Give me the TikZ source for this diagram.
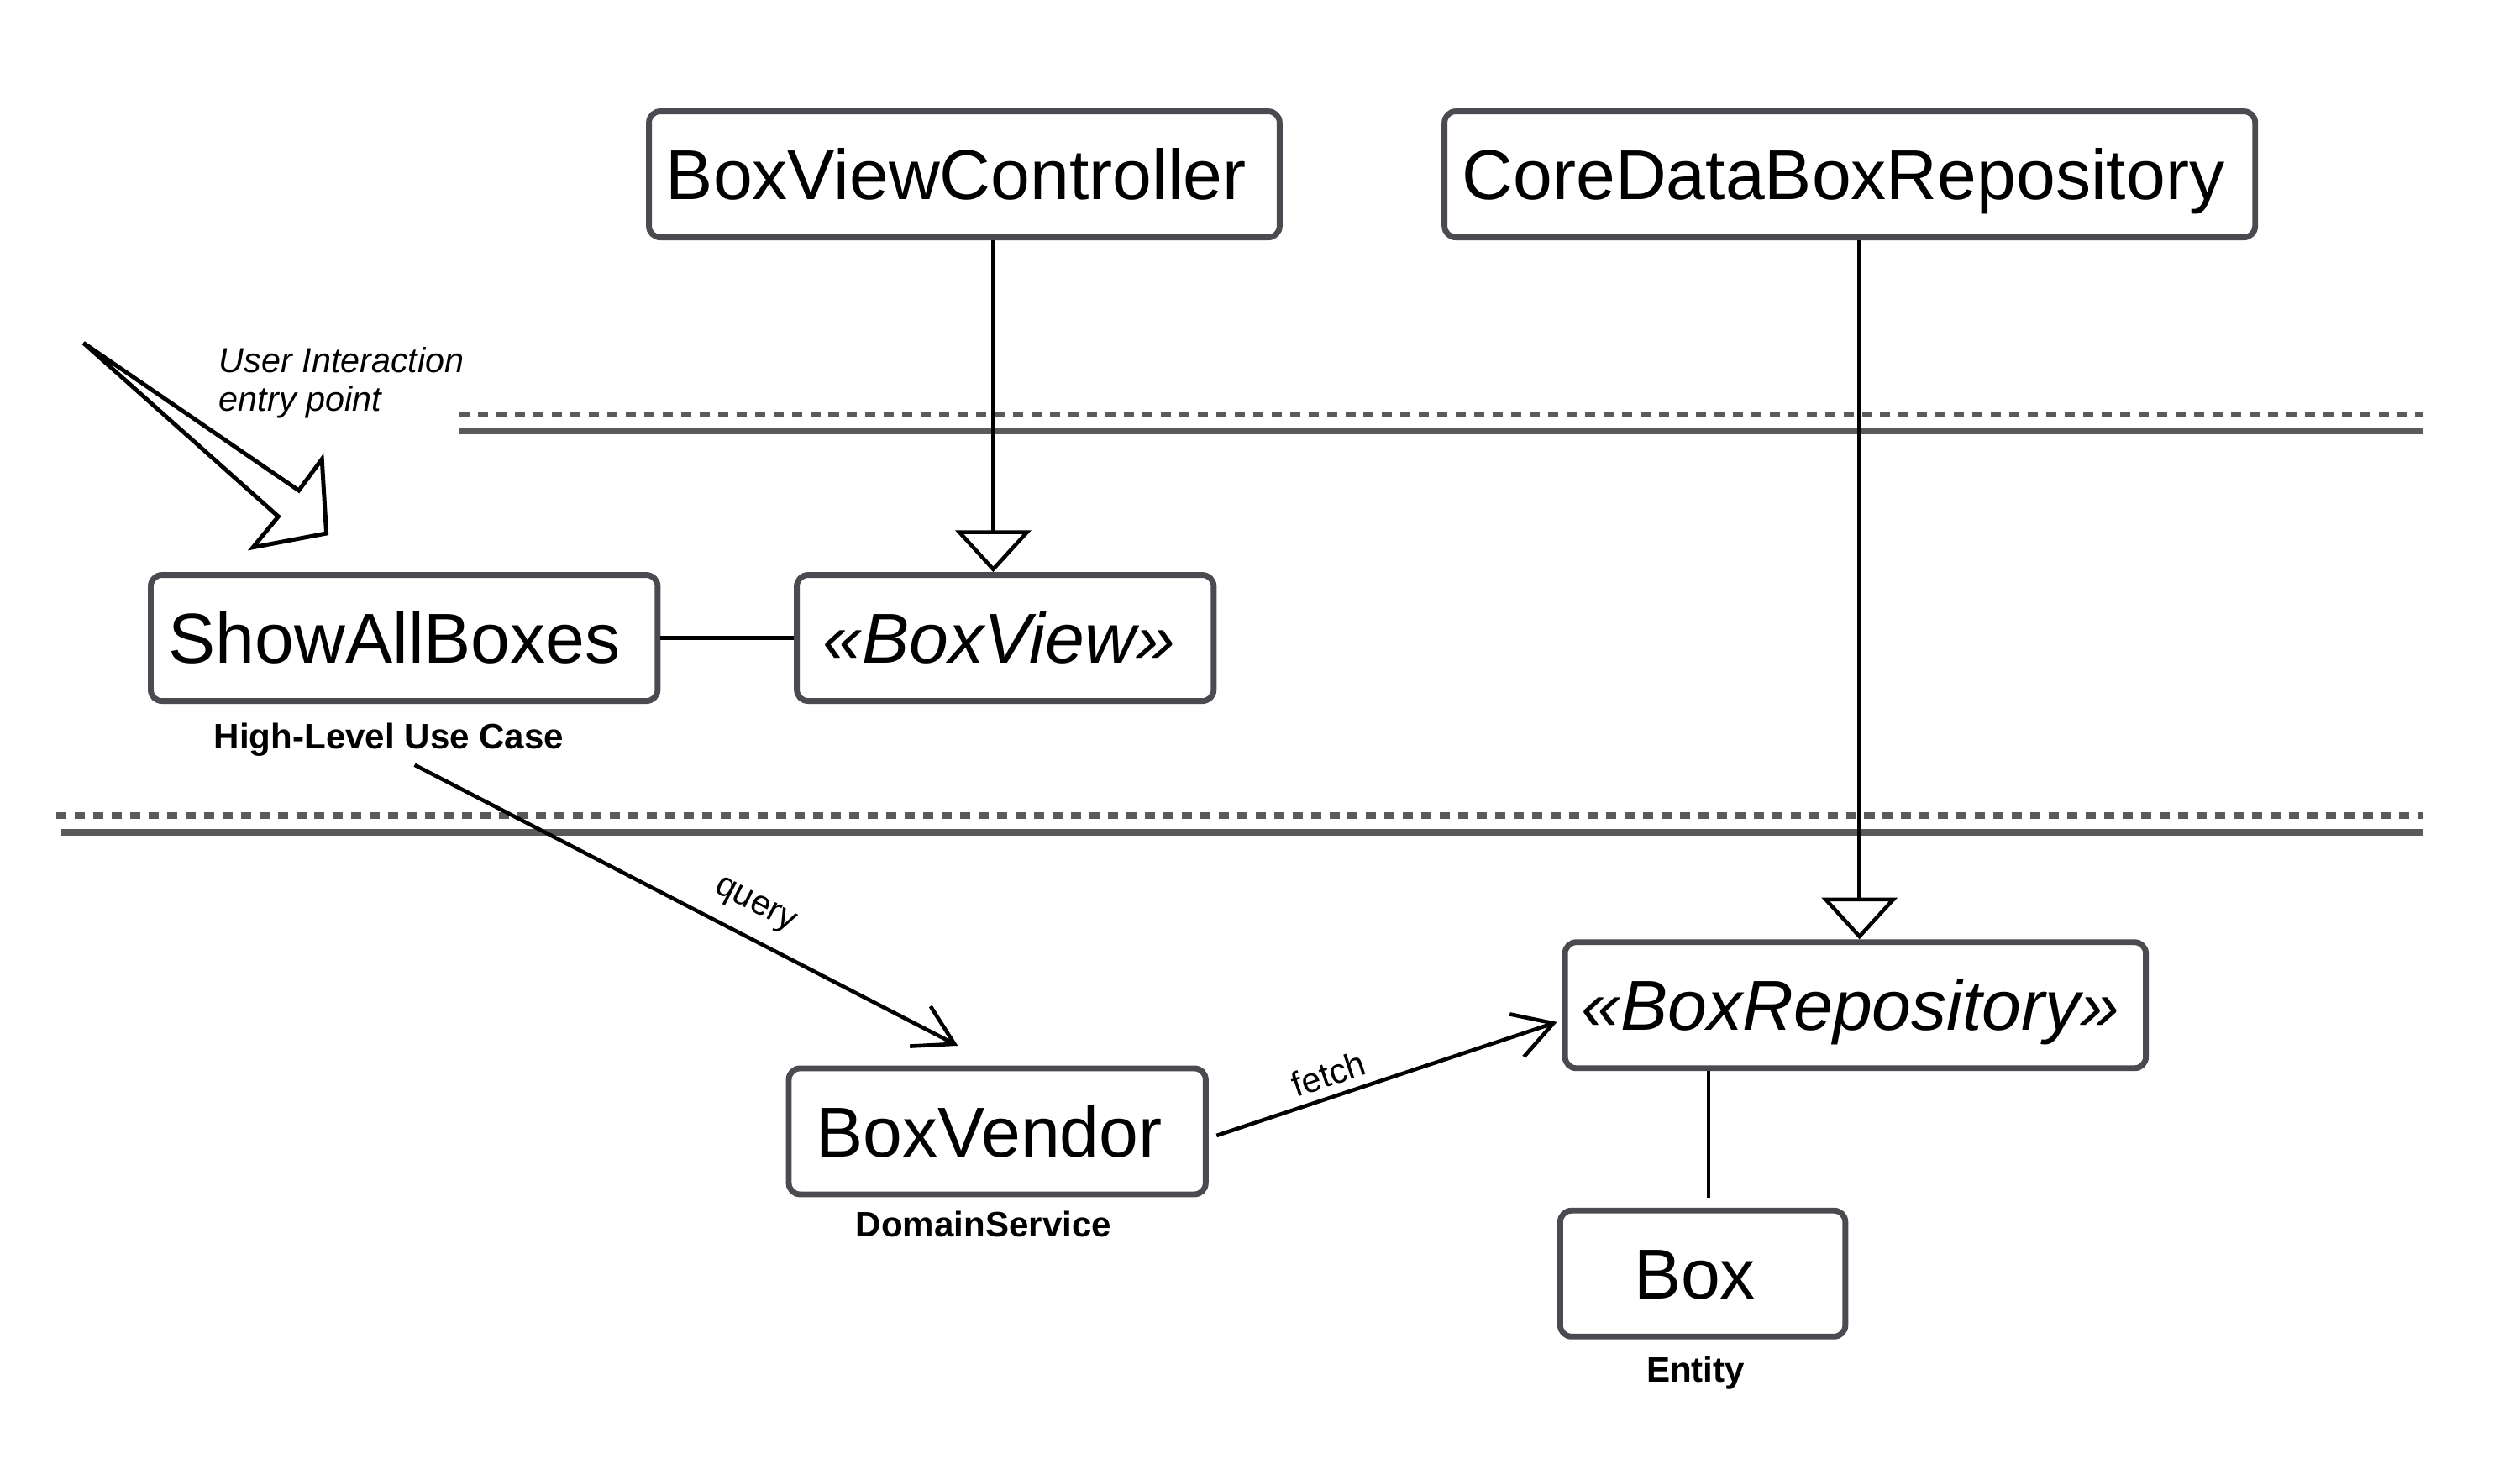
\documentclass[tikz,border=0pt]{standalone}
\usepackage{fontspec}
\setmainfont{Liberation Sans}
\usetikzlibrary{arrows.meta,calc}
\definecolor{boxgray}{HTML}{4A4A50}
\definecolor{linegray}{HTML}{5A5A5A}
\begin{document}
\begin{tikzpicture}[x=0.5pt,y=-0.5pt,
  cls/.style={draw=boxgray, line width=1.8pt, rounded corners=3.5pt, fill=white,
    inner sep=0pt, minimum height=39.2pt, font=\fontsize{22}{26}\selectfont,
    text height=15.75pt, text depth=0pt},
  lbl/.style={font=\bfseries\fontsize{11}{13}\selectfont, inner sep=0pt, anchor=base},
  note/.style={font=\itshape\fontsize{10.8}{13}\selectfont, inner sep=0pt, anchor=base west},
  conn/.style={line width=1.2pt, black},
  gen/.style={conn, -{Triangle[open, length=13pt, width=23.5pt]}},
  dep/.style={conn, -{Straight Barb[length=12pt, width=14pt]}},
  sepline/.style={line width=2pt, linegray},
  edgelbl/.style={font=\fontsize{10.8}{13}\selectfont, sloped, above}
]
\fill[white] (0,0) rectangle (1568,911);
\useasboundingbox (0,0) rectangle (1568,911);

% separators
\draw[sepline, dash pattern=on 3.14pt off 2.6pt] (286,258) -- (1508,258);
\draw[sepline] (286,268) -- (1508,268);
\draw[sepline, dash pattern=on 3.14pt off 2.6pt] (35,507.5) -- (1508,507.5);
\draw[sepline] (38,518) -- (1508,518);

% classes
\node[cls, minimum width=196.2pt] (bvc) at (600,108.5) {BoxViewController\kern5pt};
\node[cls, minimum width=252.2pt] (cdr) at (1151,108.5) {CoreDataBoxRepository\kern4pt};
\node[cls, minimum width=157.7pt] (sab) at (251.5,397) {ShowAllBoxes\kern6pt};
\node[cls, minimum width=129.7pt] (bv) at (625.5,397) {\itshape «BoxView»\kern4pt};
\node[cls, minimum width=180.7pt] (brp) at (1154.5,625.5) {\itshape «BoxRepository»\kern3pt};
\node[cls, minimum width=129.7pt] (bvd) at (620.5,704) {BoxVendor\kern5pt};
\node[cls, minimum width=88.7pt] (box) at (1059.5,792.5) {Box\kern5pt};

% stereotype labels
\node[lbl] (sabl) at (242,466) {High-Level Use Case};
\node[lbl] (bvdl) at (612,769.4) {DomainService};
\node[lbl] (boxl) at (1055,860) {Entity};

% entry point note
\node[note] (ui1) at (136,231.6) {User Interaction};
\node[note] (ui2) at (136,256) {entry point};
\draw[line width=1.3pt, line join=miter] (51.9,213.4) -- (185.9,305.2) -- (200.3,285.7)
  -- (203.1,331.9) -- (157.4,340.6) -- (173.2,321.4) -- cycle;

% connectors
\coordinate (g1) at (618,0);
\coordinate (g2) at (1157,0);
\coordinate (b1) at (1063,0);
\draw[gen] (bvc.south -| g1) -- (bv.north -| g1);
\draw[gen] (cdr.south -| g2) -- (brp.north -| g2);
\draw[conn] (sab) -- (bv);
\draw[conn, shorten >=3.2pt] (brp.south -| b1) -- (box.north -| b1);

\coordinate (q1) at (258,476);
\coordinate (q2) at (596,650.7);
\draw[dep] (q1) -- node[edgelbl, pos=0.6, inner sep=4.9pt] {query} (q2);

\draw[dep] ([xshift=2.5pt,yshift=-1.3pt]bvd.east) --
  node[edgelbl, pos=0.35, inner sep=2.6pt] {fetch} ([xshift=-1.6pt,yshift=-5.25pt]brp.west);
\end{tikzpicture}
\end{document}
